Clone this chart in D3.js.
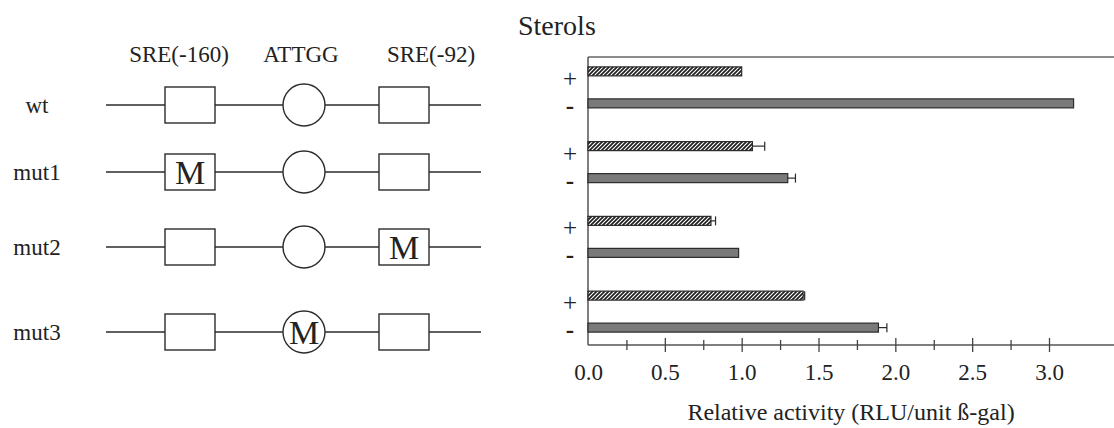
<!DOCTYPE html>
<html>
<head>
<meta charset="utf-8">
<script src="https://cdnjs.cloudflare.com/ajax/libs/d3/7.8.5/d3.min.js"></script>
<style>
  body { margin: 0; background: #fff; }
  text { font-family: "Liberation Serif", "DejaVu Serif", serif; fill: #222; }
</style>
</head>
<body>
<div id="vis"></div>
<script>
// constructs and promoter elements
var constructs = ["wt", "mut1", "mut2", "mut3"];
var elementNames = ["SRE(-160)", "ATTGG", "SRE(-92)"];
var elementShapes = ["box", "circle", "box"];
var mutatedElement = [-1, 0, 2, 1];   // index of the mutated element per construct

// relative activity, + sterols / - sterols
var conditions = ["+", "-"];
var plusValues = [1.00, 1.07, 0.80, 1.40];
var plusErrors = [0, 0.08, 0.03, 0.01];
var minusValues = [3.16, 1.30, 0.98, 1.89];
var minusErrors = [0, 0.05, 0, 0.055];

var majorTicks = [0.5, 1.0, 1.5, 2.0, 2.5, 3.0];
var tickLabels = [0, 0.5, 1.0, 1.5, 2.0, 2.5, 3.0];
var minorTicks = [0.25, 0.75, 1.25, 1.75, 2.25, 2.75];

var width = 1114;
var height = 428;
var ink = "#2b2b2b";

var svg = d3.select("#vis")
    .append("svg")
    .attr("width", width)
    .attr("height", height);

// ---------- left: promoter diagram ----------
var rowY = d3.scaleOrdinal().domain(constructs).range([105, 172, 247, 332]);
var elemX = d3.scaleOrdinal().domain(elementNames).range([190, 304, 404]);
var headerX = d3.scaleOrdinal().domain(elementNames).range([179, 301, 431]);

var boxW = 50, boxH = 36, circR = 21;

var diag = svg.append("g");

diag.selectAll(".header")
    .data(elementNames)
    .enter().append("text")
    .attr("class", "header")
    .attr("x", function(d) { return headerX(d); })
    .attr("y", 62)
    .attr("text-anchor", "middle")
    .style("font-size", "23px")
    .text(function(d) { return d; });

var rows = diag.selectAll(".row")
    .data(constructs)
    .enter().append("g")
    .attr("class", "row")
    .attr("transform", function(d) { return "translate(0," + rowY(d) + ")"; });

rows.append("text")
    .attr("x", 37)
    .attr("y", 0)
    .attr("dy", "0.33em")
    .attr("text-anchor", "middle")
    .style("font-size", "23px")
    .text(function(d) { return d; });

rows.append("line")
    .attr("x1", 106)
    .attr("x2", 481)
    .attr("stroke", ink)
    .attr("stroke-width", 1.4);

rows.each(function(c, i) {
    var row = d3.select(this);
    elementNames.forEach(function(name, j) {
        var cx = elemX(name);
        if (elementShapes[j] == "box") {
            row.append("rect")
                .attr("x", cx - boxW / 2)
                .attr("y", -boxH / 2)
                .attr("width", boxW)
                .attr("height", boxH)
                .attr("fill", "#fff")
                .attr("stroke", ink)
                .attr("stroke-width", 1.4);
        } else {
            row.append("circle")
                .attr("cx", cx)
                .attr("cy", 0)
                .attr("r", circR)
                .attr("fill", "#fff")
                .attr("stroke", ink)
                .attr("stroke-width", 1.4);
        }
        if (mutatedElement[i] == j) {
            row.append("text")
                .attr("x", cx)
                .attr("y", 0)
                .attr("dy", "0.34em")
                .attr("text-anchor", "middle")
                .style("font-size", "34px")
                .text("M");
        }
    });
});

// ---------- right: bar chart ----------
var chartLeft = 588, chartRight = 1114, chartTop = 57, chartBottom = 345;

var xScale = d3.scaleLinear().domain([0, 3]).range([chartLeft, 1049]);
var yGroup = d3.scaleBand().domain(constructs).range([50, 349]);
var yCond = d3.scalePoint().domain(conditions).range([-16, 16]);
var barH = 9;

var barData = [];
constructs.forEach(function(c, i) {
    barData.push({ construct: c, cond: "+", value: plusValues[i], err: plusErrors[i] });
    barData.push({ construct: c, cond: "-", value: minusValues[i], err: minusErrors[i] });
});
var barY = function(d) { return yGroup(d.construct) + yGroup.bandwidth() / 2 + yCond(d.cond); };

var defs = svg.append("defs");
var hatch = defs.append("pattern")
    .attr("id", "hatch")
    .attr("patternUnits", "userSpaceOnUse")
    .attr("width", 4)
    .attr("height", 4);
hatch.append("rect").attr("width", 4).attr("height", 4).attr("fill", "#fff");
hatch.append("path")
    .attr("d", "M-1,1 l2,-2 M0,4 l4,-4 M3,5 l2,-2")
    .attr("stroke", "#1e1e1e")
    .attr("stroke-width", 1.7);

svg.append("text")
    .attr("x", 518)
    .attr("y", 35)
    .style("font-size", "28px")
    .text("Sterols");

var g = svg.append("g");

// frame: top line and left axis
g.append("line")
    .attr("x1", chartLeft).attr("x2", chartRight)
    .attr("y1", chartTop).attr("y2", chartTop)
    .attr("stroke", "#666").attr("stroke-width", 1.5);
g.append("line")
    .attr("x1", chartLeft).attr("x2", chartLeft)
    .attr("y1", chartTop).attr("y2", chartBottom)
    .attr("stroke", "#555").attr("stroke-width", 1.5);

var bars = g.selectAll(".bar")
    .data(barData)
    .enter().append("rect")
    .attr("class", "bar")
    .attr("x", xScale(0))
    .attr("y", function(d) { return barY(d) - barH / 2; })
    .attr("width", function(d) { return xScale(d.value) - xScale(0); })
    .attr("height", barH)
    .attr("fill", function(d) { return d.cond == "+" ? "url(#hatch)" : "#7a7a7a"; })
    .attr("stroke", ink)
    .attr("stroke-width", 1.2);

var errs = g.selectAll(".err")
    .data(barData.filter(function(d) { return d.err > 0; }))
    .enter().append("g")
    .attr("class", "err");
errs.append("line")
    .attr("x1", function(d) { return xScale(d.value); })
    .attr("x2", function(d) { return xScale(d.value + d.err); })
    .attr("y1", barY).attr("y2", barY)
    .attr("stroke", ink).attr("stroke-width", 1.2);
errs.append("line")
    .attr("x1", function(d) { return xScale(d.value + d.err); })
    .attr("x2", function(d) { return xScale(d.value + d.err); })
    .attr("y1", function(d) { return barY(d) - barH / 2; })
    .attr("y2", function(d) { return barY(d) + barH / 2; })
    .attr("stroke", ink).attr("stroke-width", 1.2);

// +/- labels
g.selectAll(".cond")
    .data(barData)
    .enter().append("text")
    .attr("class", "cond")
    .attr("x", 570)
    .attr("y", function(d) { return barY(d) + (d.cond == "+" ? 7 : 2); })
    .attr("dominant-baseline", "central")
    .attr("text-anchor", "middle")
    .style("font-size", "25px")
    .style("font-weight", function(d) { return d.cond == "-" ? "bold" : "normal"; })
    .text(function(d) { return d.cond; });

// x axis
var xAxisLabel = g.append("g")
    .attr("transform", "translate(0," + chartBottom + ")");
xAxisLabel.append("line")
    .attr("x1", chartLeft).attr("x2", chartRight)
    .attr("stroke", "#555").attr("stroke-width", 1.5);

var majorAxis = g.append("g")
    .attr("transform", "translate(0," + chartBottom + ")")
    .call(d3.axisBottom(xScale).tickValues(majorTicks).tickSize(7).tickFormat(""));
var minorAxis = g.append("g")
    .attr("transform", "translate(0," + chartBottom + ")")
    .call(d3.axisBottom(xScale).tickValues(minorTicks).tickSize(5).tickFormat(""));
var labelAxis = g.append("g")
    .attr("transform", "translate(0," + chartBottom + ")")
    .call(d3.axisBottom(xScale).tickValues(tickLabels).tickSize(0).tickPadding(19).tickFormat(d3.format(".1f")));

[majorAxis, minorAxis, labelAxis].forEach(function(a) { a.select(".domain").remove(); });
majorAxis.selectAll(".tick line").attr("y1", -7).attr("stroke", "#444").attr("stroke-width", 1.3);
minorAxis.selectAll(".tick line").attr("y1", -5).attr("stroke", "#444").attr("stroke-width", 1.3);
labelAxis.selectAll("text")
    .style("font-family", "'Liberation Serif', serif")
    .style("font-size", "23px")
    .attr("fill", "#222");

svg.append("text")
    .attr("x", (chartLeft + chartRight) / 2)
    .attr("y", 420)
    .attr("text-anchor", "middle")
    .style("font-size", "24px")
    .text("Relative activity (RLU/unit \u00DF-gal)");
</script>
</body>
</html>
